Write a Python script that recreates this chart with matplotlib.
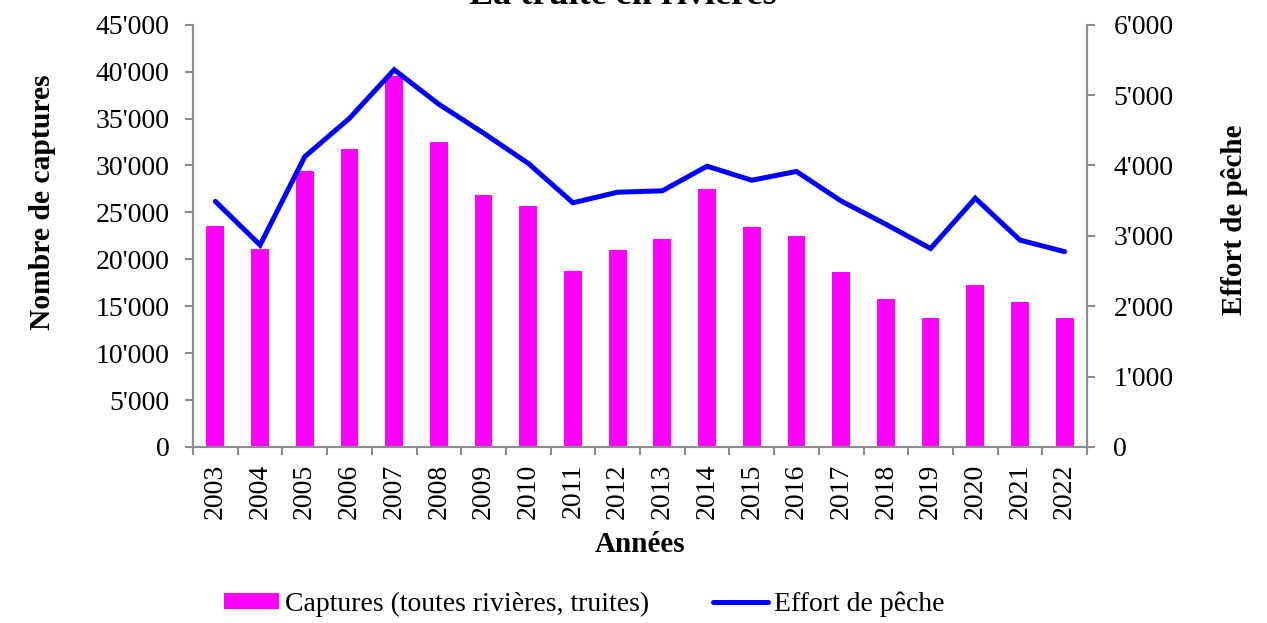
import matplotlib
matplotlib.use("Agg")
import matplotlib.pyplot as plt
from matplotlib.ticker import FuncFormatter, FixedLocator
import numpy as np

years = [str(y) for y in range(2003, 2023)]
captures = [23600, 21100, 29400, 31750, 39500, 32450, 26850, 25700, 18750, 21000,
            22200, 27500, 23400, 22500, 18700, 15800, 13700, 17250, 15500, 13750]
effort = [3490, 2870, 4125, 4670, 5360, 4870, 4460, 4030, 3470, 3620,
          3640, 3990, 3790, 3915, 3495, 3165, 2820, 3535, 2940, 2775]

plt.rcParams['font.family'] = ['Liberation Serif', 'DejaVu Serif']

def fmt(v, pos):
    v = int(round(v))
    if v == 0:
        return "0"
    return f"{v:,}".replace(",", "'")

fig = plt.figure(figsize=(12.67, 6.23), dpi=100)
ax = fig.add_axes([193/1267, 1-447/623, (1087-193)/1267, (447-24.7)/623])
ax2 = ax.twinx()

x = np.arange(len(years))
bars = ax.bar(x, captures, width=0.4, color='#FF00FF', zorder=2,
              label='Captures (toutes rivières, truites)')
line, = ax2.plot(x, effort, color='#0000FF', lw=3.6, solid_joinstyle='miter',
                 solid_capstyle='round', label='Effort de pêche')

grey = '#8C8C8C'
ax.set_xlim(-0.5, len(years) - 0.5)
ax.set_ylim(0, 45000)
ax2.set_ylim(0, 6000)
ax.set_yticks(np.arange(0, 45001, 5000))
ax2.set_yticks(np.arange(0, 6001, 1000))
ax.yaxis.set_major_formatter(FuncFormatter(fmt))
ax2.yaxis.set_major_formatter(FuncFormatter(fmt))

ax.set_xticks(x)
ax.set_xticklabels(years, rotation=90, fontsize=20)
ax.xaxis.set_minor_locator(FixedLocator(np.arange(-0.5, len(years), 1.0)))
ax.tick_params(axis='x', which='major', length=0, pad=12)
ax.tick_params(axis='x', which='minor', length=6, width=1.5, color=grey)
ax.tick_params(axis='y', length=6, width=1.5, color=grey, labelsize=20, pad=11)
ax2.tick_params(axis='y', length=6, width=1.5, color=grey, labelsize=20, pad=13)

for a in (ax, ax2):
    a.spines['top'].set_visible(False)
    for s in ('left', 'right', 'bottom'):
        a.spines[s].set_color(grey)
        a.spines[s].set_linewidth(1.5)

ax.set_ylabel('Nombre de captures', fontsize=21.3, fontweight='bold')
ax2.set_ylabel('Effort de pêche', fontsize=21, fontweight='bold')
ax.set_xlabel('Années', fontsize=21, fontweight='bold')
ax.yaxis.set_label_coords(-0.153, 0.58)
ax2.yaxis.set_label_coords(1.1495, 0.5375)
ax.xaxis.set_label_coords(0.5, -0.2)

fig.text(623/1267, 1 - 4/623, 'La truite en rivières', ha='center', va='baseline',
         fontsize=26, fontweight='bold')

fig.legend(handles=[bars, line], loc='center', bbox_to_anchor=(0.461, 1 - 604/623),
           ncol=2, frameon=False, fontsize=20, handlelength=2.0, handleheight=0.55,
           handletextpad=0.2, columnspacing=2.3)

fig.savefig('out.png', dpi=100)
